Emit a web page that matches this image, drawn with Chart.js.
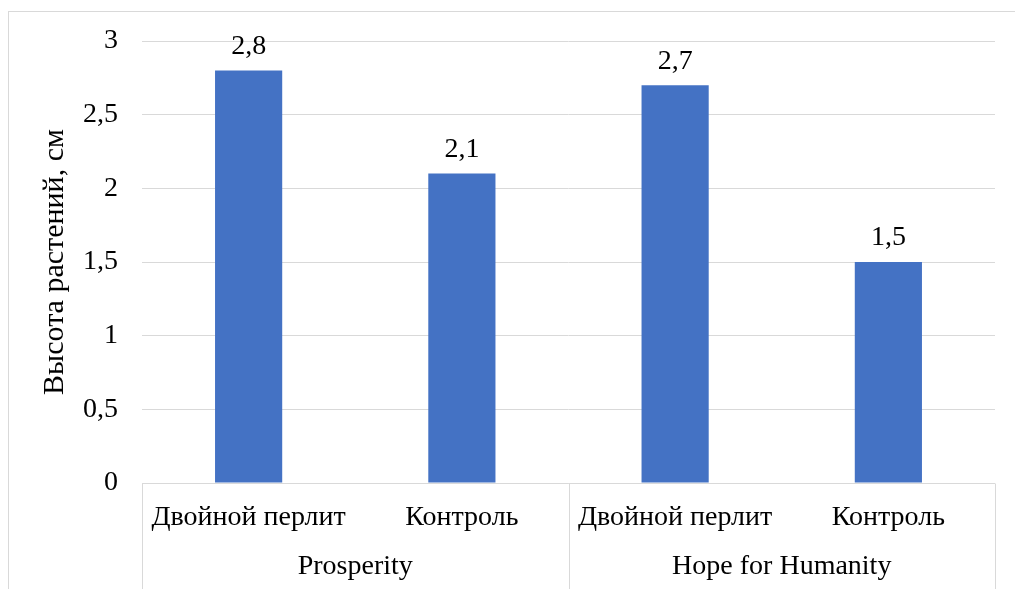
<!DOCTYPE html>
<html>
<head>
<meta charset="utf-8">
<script src="https://cdn.jsdelivr.net/npm/chart.js@4/dist/chart.umd.min.js"></script>
<style>
  html, body { margin: 0; padding: 0; background: #fff; }
  #wrap { width: 1015px; height: 589px; position: relative; }
</style>
</head>
<body>
<div id="wrap"><canvas id="c" width="1015" height="589"></canvas></div>
<script>
// Plant height by treatment, grouped by variety
const treatments = ['Двойной перлит', 'Контроль', 'Двойной перлит', 'Контроль'];
const varieties = ['Prosperity', 'Hope for Humanity'];
const heights = [2.8, 2.1, 2.7, 1.5];
const yTicks = [0, 0.5, 1, 1.5, 2, 2.5, 3];

const FONT = '"Liberation Serif", "Times New Roman", serif';
const GRID = '#d9d9d9';
const SIZE = 28;
const fmt = v => String(v).replace('.', ',');

// Outer frame, value labels and the two-level category axis
const decor = {
  id: 'decor',
  beforeDraw(chart) {
    const ctx = chart.ctx;
    ctx.save();
    ctx.strokeStyle = GRID;
    ctx.lineWidth = 1;
    ctx.strokeRect(8.5, 11.5, 1020, 600);
    ctx.restore();
  },
  afterDatasetsDraw(chart) {
    const ctx = chart.ctx;
    const x = chart.scales.x;
    const area = chart.chartArea;
    ctx.save();
    // value labels
    ctx.fillStyle = '#000';
    ctx.font = SIZE + 'px ' + FONT;
    ctx.textAlign = 'center';
    ctx.textBaseline = 'middle';
    const meta = chart.getDatasetMeta(0);
    meta.data.forEach((bar, i) => {
      ctx.fillText(fmt(heights[i]), bar.x, bar.y - 24);
    });
    // category axis lines
    ctx.strokeStyle = GRID;
    ctx.lineWidth = 1;
    const yb = Math.round(area.bottom) + 0.5;
    ctx.beginPath();
    ctx.moveTo(area.left, yb);
    ctx.lineTo(area.right, yb);
    const step = x.getPixelForValue(1) - x.getPixelForValue(0);
    const edges = [area.left, x.getPixelForValue(1) + step / 2, area.right];
    edges.forEach(px => {
      const xx = Math.round(px) + 0.5;
      ctx.moveTo(xx, yb);
      ctx.lineTo(xx, 600);
    });
    ctx.stroke();
    // treatment labels
    ctx.fillStyle = '#000';
    treatments.forEach((t, i) => {
      ctx.fillText(t, x.getPixelForValue(i), 518);
    });
    // variety labels
    varieties.forEach((v, g) => {
      const cx = (x.getPixelForValue(g * 2) + x.getPixelForValue(g * 2 + 1)) / 2;
      ctx.fillText(v, cx, 567);
    });
    ctx.restore();
  }
};

new Chart(document.getElementById('c'), {
  type: 'bar',
  data: {
    labels: treatments,
    datasets: [{
      data: heights,
      backgroundColor: '#4472c4',
      borderWidth: 0,
      categoryPercentage: 1,
      barPercentage: 0.315
    }]
  },
  options: {
    responsive: false,
    animation: false,
    events: [],
    layout: { padding: { left: 0, top: 41, right: 20, bottom: 106 } },
    plugins: { legend: { display: false }, tooltip: { enabled: false } },
    scales: {
      x: { display: false },
      y: {
        min: 0, max: 3,
        afterBuildTicks: s => { s.ticks = yTicks.map(v => ({ value: v })); },
        afterFit: s => { s.width = 142; },
        border: { display: false },
        grid: { color: GRID, drawTicks: false, lineWidth: 1 },
        ticks: {
          color: '#000',
          padding: 24,
          font: { family: FONT, size: SIZE },
          callback: v => fmt(v)
        },
        title: {
          display: true,
          text: 'Высота растений, см',
          color: '#000',
          font: { family: FONT, size: 30 },
          padding: { top: 37, bottom: 0 }
        }
      }
    }
  },
  plugins: [decor]
});
</script>
</body>
</html>
